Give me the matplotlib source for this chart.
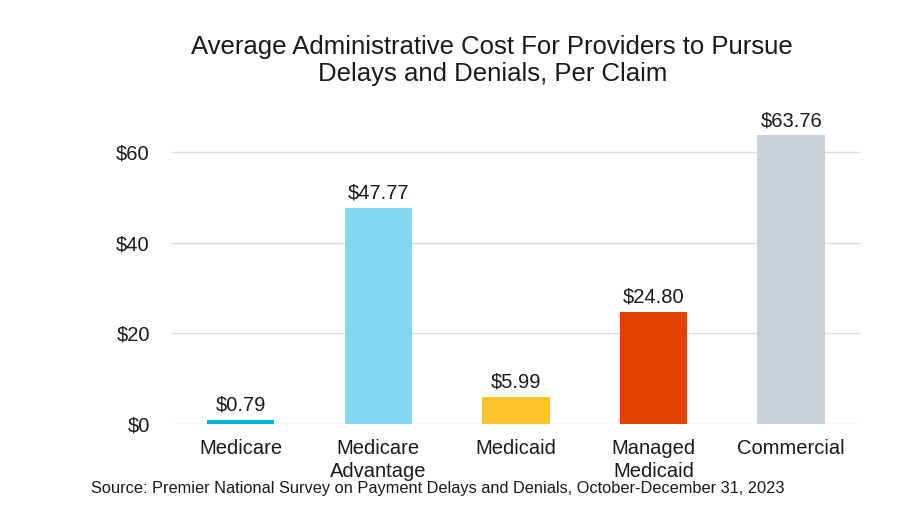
import matplotlib.pyplot as plt

plt.rcParams['font.family'] = ['Liberation Sans', 'DejaVu Sans']

# Data
categories = ['Medicare', 'Medicare\nAdvantage', 'Medicaid', 'Managed\nMedicaid', 'Commercial']
values = [0.79, 47.77, 5.99, 24.80, 63.76]
colors = ['#00B2E3', '#80D9F1', '#FFC528', '#E24100', '#C9D0D7']
yticks = [0, 20, 40, 60]

fig = plt.figure(figsize=(9.1, 5.13), dpi=100)
ax = fig.add_axes([0.189, 0.1735, 0.756, 0.6175])

x = range(len(categories))
bars = ax.bar(x, values, width=0.49, color=colors, zorder=3)

for xi, v in zip(x, values):
    ax.text(xi, v + 1.2, f'${v:.2f}', ha='center', va='bottom', fontsize=14.5, color='#1a1a1a')

ax.set_xlim(-0.5, len(categories) - 0.5)
ax.set_ylim(0, 70)
ax.set_yticks(yticks)
ax.set_yticklabels([f'${t}' for t in yticks])
ax.set_xticks(list(x))
ax.set_xticklabels(categories, fontsize=14.5, color='#1a1a1a', linespacing=1.25)
ax.tick_params(axis='y', labelsize=14.5, length=0, pad=16, labelcolor='#1a1a1a')
ax.tick_params(axis='x', length=0, pad=11)

ax.grid(axis='y', color='#DDDDDD', linewidth=1, zorder=0)
for s in ax.spines.values():
    s.set_visible(False)

fig.text(0.541, 0.882, 'Average Administrative Cost For Providers to Pursue\nDelays and Denials, Per Claim',
         ha='center', va='center', fontsize=18.5, color='#1a1a1a', linespacing=1.2)
fig.text(0.1, 0.048, 'Source: Premier National Survey on Payment Delays and Denials, October-December 31, 2023',
         ha='left', va='center', fontsize=11.8, color='#1a1a1a')

fig.savefig('out.png', dpi=100)
